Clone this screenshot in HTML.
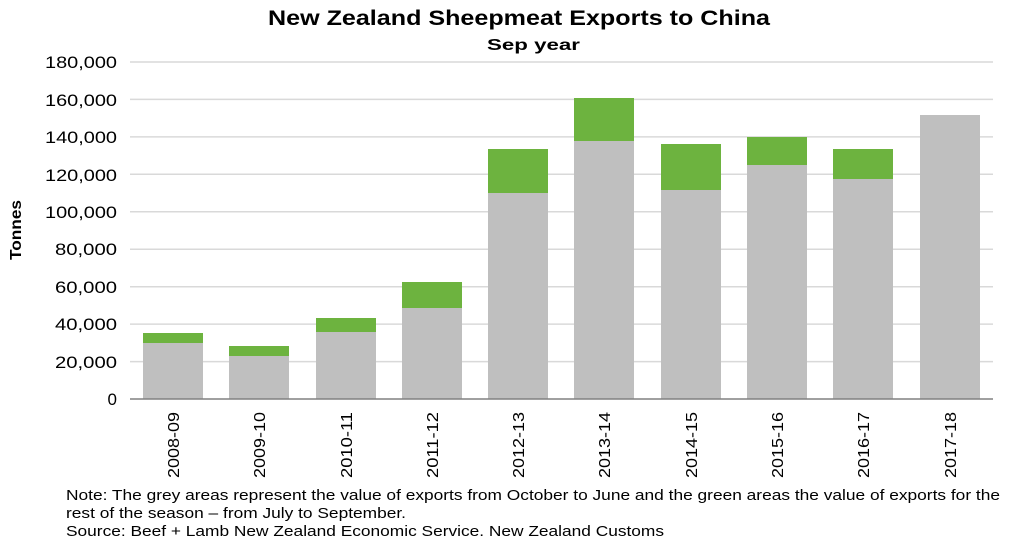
<!DOCTYPE html>
<html><head><meta charset="utf-8"><style>
body{margin:0;background:#fff;}
svg{display:block;font-family:"Liberation Sans",Arial,sans-serif;}
</style></head><body>
<svg width="1024" height="547" viewBox="0 0 1024 547" xmlns="http://www.w3.org/2000/svg">
<text x="268" y="25" font-size="21" font-weight="bold" fill="#000" textLength="502" lengthAdjust="spacingAndGlyphs">New Zealand Sheepmeat Exports to China</text>
<text x="487" y="50" font-size="16" font-weight="bold" fill="#000" textLength="93" lengthAdjust="spacingAndGlyphs">Sep year</text>
<g stroke="#d9d9d9" stroke-width="1.5">
<line x1="130" x2="993" y1="62" y2="62"/><line x1="130" x2="993" y1="99.4" y2="99.4"/>
<line x1="130" x2="993" y1="136.9" y2="136.9"/><line x1="130" x2="993" y1="174.3" y2="174.3"/>
<line x1="130" x2="993" y1="211.8" y2="211.8"/><line x1="130" x2="993" y1="249.2" y2="249.2"/>
<line x1="130" x2="993" y1="286.7" y2="286.7"/><line x1="130" x2="993" y1="324.1" y2="324.1"/>
<line x1="130" x2="993" y1="361.6" y2="361.6"/>
</g>
<g font-size="17" text-anchor="end" fill="#000">
<text x="117" y="68" textLength="72" lengthAdjust="spacingAndGlyphs">180,000</text><text x="117" y="106" textLength="72" lengthAdjust="spacingAndGlyphs">160,000</text><text x="117" y="143" textLength="72" lengthAdjust="spacingAndGlyphs">140,000</text>
<text x="117" y="181" textLength="72" lengthAdjust="spacingAndGlyphs">120,000</text><text x="117" y="218" textLength="72" lengthAdjust="spacingAndGlyphs">100,000</text><text x="117" y="255" textLength="62" lengthAdjust="spacingAndGlyphs">80,000</text>
<text x="117" y="293" textLength="62" lengthAdjust="spacingAndGlyphs">60,000</text><text x="117" y="330" textLength="62" lengthAdjust="spacingAndGlyphs">40,000</text><text x="117" y="368" textLength="62" lengthAdjust="spacingAndGlyphs">20,000</text>
<text x="117" y="405">0</text>
</g>
<text transform="translate(21,230) rotate(-90)" text-anchor="middle" font-size="16" font-weight="bold" textLength="60" lengthAdjust="spacingAndGlyphs">Tonnes</text>
<g fill="#bfbfbf">
<rect x="143" y="343" width="60" height="56"/><rect x="229" y="356" width="60" height="43"/>
<rect x="316" y="332" width="60" height="67"/><rect x="402" y="308" width="60" height="91"/>
<rect x="488" y="193" width="60" height="206"/><rect x="574" y="141" width="60" height="258"/>
<rect x="661" y="190" width="60" height="209"/><rect x="747" y="165" width="60" height="234"/>
<rect x="833" y="179" width="60" height="220"/><rect x="920" y="115" width="60" height="284"/>
</g>
<g fill="#6db33f">
<rect x="143" y="333" width="60" height="10"/><rect x="229" y="346" width="60" height="10"/>
<rect x="316" y="318" width="60" height="14"/><rect x="402" y="282" width="60" height="26"/>
<rect x="488" y="149" width="60" height="44"/><rect x="574" y="98" width="60" height="43"/>
<rect x="661" y="144" width="60" height="46"/><rect x="747" y="137" width="60" height="28"/>
<rect x="833" y="149" width="60" height="30"/>
</g>
<line x1="130" x2="993" y1="399" y2="399" stroke="#808080" stroke-width="1.5"/>
<g font-size="16" text-anchor="end" fill="#000">
<text transform="translate(179,412) rotate(-90)" textLength="66" lengthAdjust="spacingAndGlyphs">2008-09</text>
<text transform="translate(265,412) rotate(-90)" textLength="66" lengthAdjust="spacingAndGlyphs">2009-10</text>
<text transform="translate(352,412) rotate(-90)" textLength="66" lengthAdjust="spacingAndGlyphs">2010-11</text>
<text transform="translate(438,412) rotate(-90)" textLength="66" lengthAdjust="spacingAndGlyphs">2011-12</text>
<text transform="translate(524,412) rotate(-90)" textLength="66" lengthAdjust="spacingAndGlyphs">2012-13</text>
<text transform="translate(610,412) rotate(-90)" textLength="66" lengthAdjust="spacingAndGlyphs">2013-14</text>
<text transform="translate(697,412) rotate(-90)" textLength="66" lengthAdjust="spacingAndGlyphs">2014-15</text>
<text transform="translate(783,412) rotate(-90)" textLength="66" lengthAdjust="spacingAndGlyphs">2015-16</text>
<text transform="translate(869,412) rotate(-90)" textLength="66" lengthAdjust="spacingAndGlyphs">2016-17</text>
<text transform="translate(956,412) rotate(-90)" textLength="66" lengthAdjust="spacingAndGlyphs">2017-18</text>
</g>
<g font-size="15" fill="#000">
<text x="66" y="500" textLength="934" lengthAdjust="spacingAndGlyphs">Note: The grey areas represent the value of exports from October to June and the green areas the value of exports for the</text>
<text x="66" y="518" textLength="340" lengthAdjust="spacingAndGlyphs">rest of the season – from July to September.</text>
<text x="66" y="536" textLength="598" lengthAdjust="spacingAndGlyphs">Source: Beef + Lamb New Zealand Economic Service. New Zealand Customs</text>
</g>
</svg>
</body></html>
